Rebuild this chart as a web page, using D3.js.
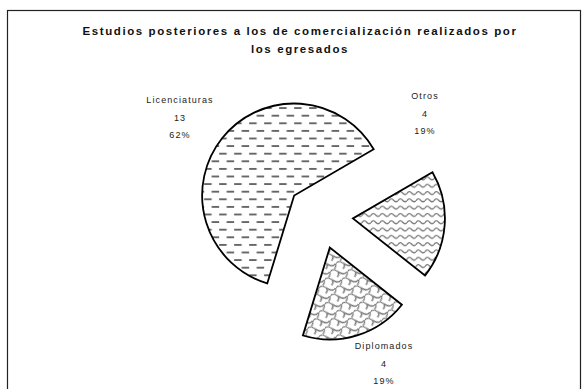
<!DOCTYPE html>
<html><head><meta charset="utf-8">
<script src="https://cdn.jsdelivr.net/npm/d3@7/dist/d3.min.js"></script>
<style>body{margin:0;background:#fff;} svg{display:block;}</style></head>
<body><svg id="chart" width="588" height="389"></svg>
<script>
// ---- data ----
const categories = ["Licenciaturas", "Otros", "Diplomados"];
const values = [13, 4, 4];
const titleLines = ["Estudios posteriores a los de comercialización realizados por", "los egresados"];

// ---- layout / style ----
const W = 588, H = 389;
const cx = 320, cy = 216, radius = 92, explode = 33;
const startDeg = 197;
const patternIds = ["pDash", "pWave", "pShingle"];
const labelOffsets = [[-140, -116], [105, -120], [64, 130]];
const lineGap = 17.6;

const svg = d3.select("#chart");
svg.append("rect").attr("width", W).attr("height", H).attr("fill", "#fff");

// patterns
const defs = svg.append("defs");
const pd = defs.append("pattern").attr("id", "pDash").attr("patternUnits", "userSpaceOnUse")
  .attr("width", 15).attr("height", 15.2);
pd.append("rect").attr("width", 15).attr("height", 15.2).attr("fill", "#fff");
pd.append("path").attr("d", "M0,3.8h7.5M7.5,11.4h7.5")
  .attr("stroke", "#666").attr("stroke-width", 2).attr("fill", "none");

const pw = defs.append("pattern").attr("id", "pWave").attr("patternUnits", "userSpaceOnUse")
  .attr("width", 9).attr("height", 7.3);
pw.append("rect").attr("width", 9).attr("height", 7.3).attr("fill", "#fff");
pw.append("path").attr("d", "M0,4.4 Q2.25,0.8 4.5,3.6 T9,4.4")
  .attr("stroke", "#777").attr("stroke-width", 1.3).attr("fill", "none");

const ps = defs.append("pattern").attr("id", "pShingle").attr("patternUnits", "userSpaceOnUse")
  .attr("width", 14).attr("height", 10).attr("patternTransform", "rotate(35)");
ps.append("rect").attr("width", 14).attr("height", 10).attr("fill", "#fff");
ps.append("path").attr("d", "M0,10 Q0,5 7,5 Q14,5 14,0 M7,5 Q9.5,7 9,10 M0,0 Q2.5,2 2,5")
  .attr("stroke", "#6f6f6f").attr("stroke-width", 1.2).attr("fill", "none");

// border
svg.append("rect").attr("x", 7.5).attr("y", 10.5).attr("width", 573).attr("height", 420)
  .attr("fill", "none").attr("stroke", "#222").attr("stroke-width", 1.2);

// title
svg.selectAll("text.title").data(titleLines).join("text").attr("class", "title")
  .attr("x", 300).attr("y", (d, i) => 31 + i * 17.5)
  .attr("text-anchor", "middle").attr("dominant-baseline", "central")
  .attr("font-family", "Liberation Sans, Arial, sans-serif").attr("font-weight", "bold")
  .attr("font-size", 11.5).attr("letter-spacing", "1.6px").attr("fill", "#111")
  .text(d => d);

// pie
const a0 = startDeg * Math.PI / 180;
const pie = d3.pie().sort(null).value(d => d).startAngle(a0).endAngle(a0 + 2 * Math.PI);
const arc = d3.arc().innerRadius(0).outerRadius(radius);
const arcs = pie(values);
const total = d3.sum(values);
const fmt = d3.format(".0%");

const g = svg.append("g").attr("transform", `translate(${cx},${cy})`);
g.selectAll("path.slice").data(arcs).join("path").attr("class", "slice")
  .attr("transform", d => {
    const m = (d.startAngle + d.endAngle) / 2;
    return `translate(${explode * Math.sin(m)},${-explode * Math.cos(m)})`;
  })
  .attr("d", arc)
  .attr("fill", (d, i) => `url(#${patternIds[i]})`)
  .attr("stroke", "#000").attr("stroke-width", 1.8).attr("stroke-linejoin", "miter");

// labels
arcs.forEach((d, i) => {
  const lines = [categories[i], String(values[i]), fmt(values[i] / total)];
  const [ox, oy] = labelOffsets[i];
  g.selectAll(null).data(lines).join("text")
    .attr("x", ox).attr("y", (t, j) => oy + j * lineGap)
    .attr("text-anchor", "middle").attr("dominant-baseline", "central")
    .attr("font-family", "Liberation Sans, Arial, sans-serif")
    .attr("font-size", 9).attr("letter-spacing", "1.1px").attr("fill", "#222")
    .text(t => t);
});
</script>
</body></html>
